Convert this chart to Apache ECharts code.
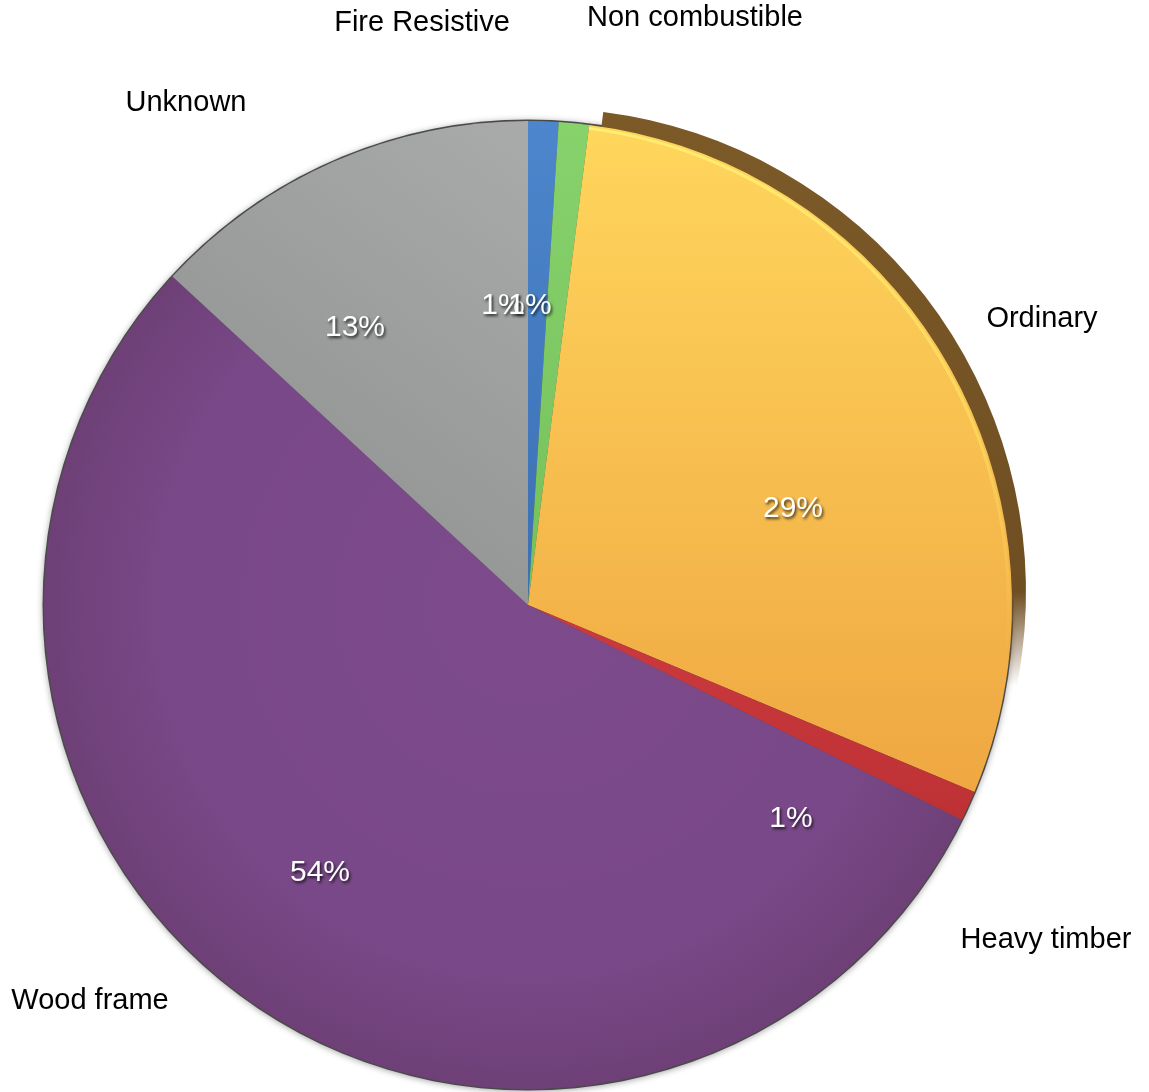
<!DOCTYPE html>
<html>
<head>
<meta charset="utf-8">
<title>Construction type</title>
<script src="https://cdn.jsdelivr.net/npm/echarts@6/dist/echarts.min.js"></script>
<style>
  html, body { margin: 0; padding: 0; background: #ffffff; }
  #chart { width: 1149px; height: 1092px; }
</style>
</head>
<body>
<div id="chart"></div>
<script>
// Share of fires by construction type (percent)
const categories = ['Fire Resistive', 'Non combustible', 'Ordinary', 'Heavy timber', 'Wood frame', 'Unknown'];
const shares = [1, 1, 29, 1, 54, 13];

// Slice fills: [light, dark] per category
const sliceColors = [
  ['#4d86cc', '#3b6fb3'],
  ['#88d26c', '#74c05a'],
  ['#ffd65c', '#efa742'],
  ['#cc3a3f', '#bd3134'],
  ['#7d4b8b', '#6e4077'],
  ['#a9abaa', '#8c8e8d']
];
// gradient directions per slice (x, y, x2, y2 within the slice box)
const sliceDirs = [
  [0, 0, 0, 1], [0, 0, 0, 1], [0, 0, 0, 1], [0, 0, 0, 1], [1, 0, 0, 1], [1, 0, 0, 1]
];

// Where each category name and value sits on the page
const nameSpots = [[422, 23], [695, 18], [1042, 319], [1046, 940], [90, 1001], [186, 103]];
const valueSpots = [[503, 306], [530, 306], [793, 509], [791, 819], [320, 873], [355, 328]];

const C = [528, 605];
const R = 484;
const FONT = '"Liberation Sans", Arial, Helvetica, sans-serif';

function grad(i) {
  if (categories[i] === 'Wood frame') {
    // darkens gently towards the rim
    return new echarts.graphic.RadialGradient(C[0], C[1], R, [
      { offset: 0, color: sliceColors[i][0] },
      { offset: 0.75, color: '#794888' },
      { offset: 1, color: sliceColors[i][1] }
    ], true);
  }
  const d = sliceDirs[i];
  return new echarts.graphic.LinearGradient(d[0], d[1], d[2], d[3], [
    { offset: 0, color: sliceColors[i][0] },
    { offset: 1, color: sliceColors[i][1] }
  ]);
}

const mainData = categories.map((name, i) => ({
  name, value: shares[i], itemStyle: { color: grad(i) }
}));

// side wall of the raised Ordinary slice, fading out towards its lower end
const wallData = categories.map((name, i) => ({
  name, value: shares[i],
  itemStyle: { color: name === 'Ordinary'
    ? new echarts.graphic.LinearGradient(0, 0, 0, 1, [
        { offset: 0, color: '#7c5a28' },
        { offset: 0.72, color: '#6f4e22' },
        { offset: 0.86, color: 'rgba(111,78,34,0)' },
        { offset: 1, color: 'rgba(111,78,34,0)' }])
    : 'transparent' }
}));

// bright glint just inside the rim of the Ordinary slice
const glintData = categories.map((name, i) => ({
  name, value: shares[i],
  itemStyle: { color: name === 'Ordinary'
    ? new echarts.graphic.LinearGradient(0, 0, 0, 1, [
        { offset: 0, color: 'rgba(255,245,120,0.8)' },
        { offset: 0.45, color: 'rgba(255,236,110,0.45)' },
        { offset: 0.8, color: 'rgba(255,230,110,0)' },
        { offset: 1, color: 'rgba(255,230,110,0)' }])
    : 'transparent' }
}));

const labelData = categories.map((name, i) => ({ name, value: shares[i] }));

const chart = echarts.init(document.getElementById('chart'), null, { renderer: 'canvas' });
chart.setOption({
  animation: false,
  backgroundColor: '#ffffff',
  series: [
    {
      // soft shadow and dark rim under the whole pie
      type: 'pie', z: 1, silent: true,
      center: C, radius: R + 1.5,
      data: [{ value: 1, name: 'rim' }],
      label: { show: false }, labelLine: { show: false },
      itemStyle: { color: '#4a4a4a', shadowBlur: 6, shadowColor: 'rgba(0,0,0,0.35)', shadowOffsetY: 1 }
    },
    {
      type: 'pie', z: 2, silent: true,
      center: [C[0] + 14, C[1] - 13], radius: R,
      startAngle: 90, clockwise: true,
      data: wallData,
      label: { show: false }, labelLine: { show: false }
    },
    {
      type: 'pie', z: 3, silent: true,
      center: C, radius: R,
      startAngle: 90, clockwise: true,
      data: mainData,
      itemStyle: { borderWidth: 0 },
      label: { show: false }, labelLine: { show: false }
    },
    {
      type: 'pie', z: 3, silent: true,
      center: C, radius: [R - 5, R - 2],
      startAngle: 90, clockwise: true,
      data: glintData,
      itemStyle: { borderWidth: 0 },
      label: { show: false }, labelLine: { show: false }
    },
    {
      // percentage labels
      type: 'pie', z: 4, silent: true,
      center: C, radius: [R * 0.36, R],
      startAngle: 90, clockwise: true,
      data: labelData,
      itemStyle: { color: 'transparent' },
      labelLine: { show: false },
      label: {
        show: true, position: 'inside',
        formatter: '{c}%',
        fontFamily: FONT,
        fontSize: 30, color: '#ffffff',
        textShadowColor: 'rgba(0,0,0,0.75)', textShadowBlur: 3,
        textShadowOffsetX: 1.5, textShadowOffsetY: 2
      },
      labelLayout: p => ({
        x: valueSpots[p.dataIndex][0], y: valueSpots[p.dataIndex][1],
        align: 'center', verticalAlign: 'middle'
      })
    },
    {
      // category names around the pie
      type: 'pie', z: 4, silent: true,
      center: C, radius: R,
      startAngle: 90, clockwise: true,
      data: labelData,
      itemStyle: { color: 'transparent' },
      labelLine: { show: false },
      label: {
        show: true, position: 'outside',
        formatter: '{b}',
        overflow: 'none',
        fontFamily: FONT,
        fontSize: 29, color: '#000000'
      },
      labelLayout: p => ({
        x: nameSpots[p.dataIndex][0], y: nameSpots[p.dataIndex][1],
        align: 'center', verticalAlign: 'middle', hideOverlap: false
      })
    }
  ]
});
</script>
</body>
</html>
